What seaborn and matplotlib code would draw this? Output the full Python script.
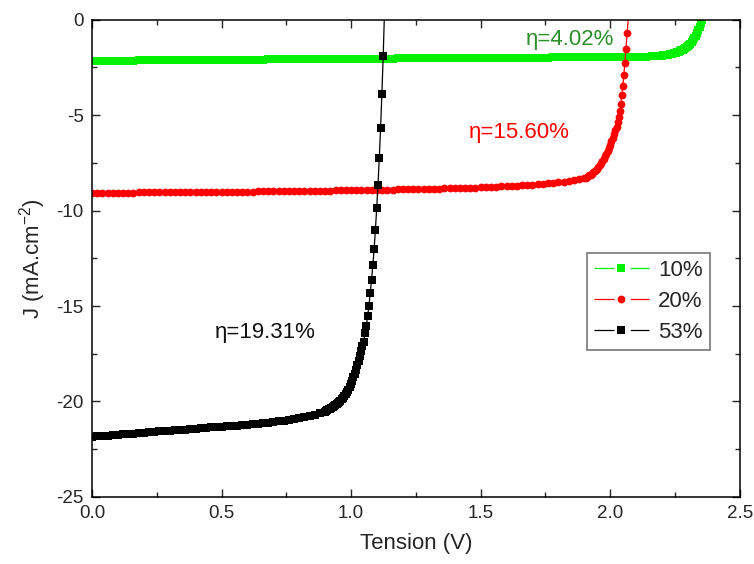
import numpy as np
import pandas as pd
import matplotlib
matplotlib.use("Agg")
import matplotlib.pyplot as plt
import seaborn as sns
from matplotlib.ticker import MultipleLocator

# ---------------- data ----------------
green_v = [0.00, 0.02, 0.04, 0.06, 0.08, 0.10, 0.12, 0.14, 0.16, 0.18,
           0.20, 0.22, 0.24, 0.26, 0.28, 0.30, 0.32, 0.34, 0.36, 0.38,
           0.40, 0.42, 0.44, 0.46, 0.48, 0.50, 0.52, 0.54, 0.56, 0.58,
           0.60, 0.62, 0.64, 0.66, 0.68, 0.70, 0.72, 0.74, 0.76, 0.78,
           0.80, 0.82, 0.84, 0.86, 0.88, 0.90, 0.92, 0.94, 0.96, 0.98,
           1.00, 1.02, 1.04, 1.06, 1.08, 1.10, 1.12, 1.14, 1.16, 1.18,
           1.20, 1.22, 1.24, 1.26, 1.28, 1.30, 1.32, 1.34, 1.36, 1.38,
           1.40, 1.42, 1.44, 1.46, 1.48, 1.50, 1.52, 1.54, 1.56, 1.58,
           1.60, 1.62, 1.64, 1.66, 1.68, 1.70, 1.72, 1.74, 1.76, 1.78,
           1.80, 1.82, 1.84, 1.86, 1.88, 1.90, 1.92, 1.94, 1.96, 1.98,
           2.00, 2.02, 2.04, 2.06, 2.08, 2.10, 2.12, 2.14, 2.16, 2.18, 2.20,
           2.205, 2.210, 2.215, 2.220, 2.225, 2.230, 2.235, 2.240, 2.245, 2.250,
           2.255, 2.260, 2.265, 2.270, 2.275, 2.280, 2.285, 2.290, 2.295, 2.300,
           2.305, 2.310, 2.315, 2.320, 2.325, 2.330, 2.335, 2.340, 2.345, 2.350,
           2.355, 2.360]
green_j = [-2.15, -2.15, -2.15, -2.15, -2.14, -2.14, -2.14, -2.14, -2.14, -2.13,
           -2.13, -2.13, -2.13, -2.13, -2.12, -2.12, -2.12, -2.12, -2.12, -2.11,
           -2.11, -2.11, -2.11, -2.11, -2.10, -2.10, -2.10, -2.10, -2.10, -2.09,
           -2.09, -2.09, -2.09, -2.09, -2.08, -2.08, -2.08, -2.08, -2.08, -2.07,
           -2.07, -2.07, -2.07, -2.07, -2.06, -2.06, -2.06, -2.06, -2.06, -2.05,
           -2.05, -2.05, -2.05, -2.05, -2.04, -2.04, -2.04, -2.04, -2.04, -2.03,
           -2.03, -2.03, -2.03, -2.03, -2.02, -2.02, -2.02, -2.02, -2.02, -2.01,
           -2.01, -2.01, -2.01, -2.01, -2.00, -2.00, -2.00, -2.00, -2.00, -1.99,
           -1.99, -1.99, -1.99, -1.99, -1.98, -1.98, -1.98, -1.98, -1.98, -1.97,
           -1.97, -1.97, -1.97, -1.97, -1.96, -1.96, -1.96, -1.96, -1.96, -1.95,
           -1.95, -1.95, -1.95, -1.94, -1.94, -1.94, -1.93, -1.93, -1.92, -1.90, -1.88,
           -1.87, -1.86, -1.85, -1.84, -1.83, -1.81, -1.80, -1.78, -1.76, -1.74,
           -1.72, -1.70, -1.67, -1.64, -1.61, -1.58, -1.54, -1.49, -1.45, -1.40,
           -1.33, -1.26, -1.17, -1.07, -0.96, -0.83, -0.69, -0.53, -0.36, -0.18,
           0.00, 0.18]

red_v = [0.00, 0.02, 0.04, 0.06, 0.08, 0.10, 0.12, 0.14, 0.16, 0.18,
         0.20, 0.22, 0.24, 0.26, 0.28, 0.30, 0.32, 0.34, 0.36, 0.38,
         0.40, 0.42, 0.44, 0.46, 0.48, 0.50, 0.52, 0.54, 0.56, 0.58,
         0.60, 0.62, 0.64, 0.66, 0.68, 0.70, 0.72, 0.74, 0.76, 0.78,
         0.80, 0.82, 0.84, 0.86, 0.88, 0.90, 0.92, 0.94, 0.96, 0.98,
         1.00, 1.02, 1.04, 1.06, 1.08, 1.10, 1.12, 1.14, 1.16, 1.18,
         1.20, 1.22, 1.24, 1.26, 1.28, 1.30, 1.32, 1.34, 1.36, 1.38,
         1.40, 1.42, 1.44, 1.46, 1.48, 1.50, 1.52, 1.54, 1.56, 1.58,
         1.60, 1.62, 1.64, 1.66, 1.68, 1.70, 1.72, 1.74, 1.76, 1.78,
         1.80, 1.82, 1.84, 1.86, 1.88,
         1.900, 1.905, 1.910, 1.915, 1.920, 1.925, 1.930, 1.935, 1.940, 1.945,
         1.950, 1.955, 1.960, 1.965, 1.970, 1.975, 1.980, 1.985, 1.990, 1.995,
         2.000, 2.005, 2.010, 2.015, 2.020, 2.025,
         2.029, 2.033, 2.037, 2.041, 2.045, 2.049, 2.053, 2.057, 2.061, 2.066, 2.071]
red_j = [-9.08, -9.08, -9.08, -9.07, -9.07, -9.07, -9.06, -9.06, -9.06, -9.05,
         -9.05, -9.05, -9.05, -9.04, -9.04, -9.04, -9.04, -9.03, -9.03, -9.03,
         -9.03, -9.02, -9.02, -9.02, -9.01, -9.01, -9.01, -9.01, -9.00, -9.00,
         -9.00, -9.00, -8.99, -8.99, -8.99, -8.99, -8.98, -8.98, -8.98, -8.97,
         -8.97, -8.97, -8.96, -8.96, -8.95, -8.95, -8.95, -8.94, -8.94, -8.93,
         -8.93, -8.93, -8.92, -8.92, -8.91, -8.91, -8.91, -8.90, -8.90, -8.89,
         -8.89, -8.88, -8.88, -8.87, -8.87, -8.86, -8.85, -8.85, -8.84, -8.83,
         -8.82, -8.81, -8.80, -8.80, -8.79, -8.78, -8.77, -8.75, -8.74, -8.72,
         -8.71, -8.70, -8.69, -8.67, -8.66, -8.64, -8.62, -8.60, -8.58, -8.55,
         -8.52, -8.49, -8.45, -8.41, -8.36,
         -8.30, -8.27, -8.24, -8.20, -8.16, -8.11, -8.06, -8.00, -7.94, -7.87,
         -7.80, -7.71, -7.62, -7.52, -7.41, -7.29, -7.16, -7.02, -6.87, -6.71,
         -6.54, -6.37, -6.19, -6.00, -5.80, -5.61,
         -5.35, -5.08, -4.77, -4.40, -3.93, -3.46, -2.88, -2.25, -1.52, -0.68, 0.25]

black_v = [0.00, 0.02, 0.04, 0.06, 0.08, 0.10, 0.12, 0.14, 0.16, 0.18,
           0.20, 0.22, 0.24, 0.26, 0.28, 0.30, 0.32, 0.34, 0.36, 0.38,
           0.40, 0.42, 0.44, 0.46, 0.48, 0.50, 0.52, 0.54, 0.56, 0.58,
           0.60, 0.62, 0.64, 0.66, 0.68, 0.70, 0.72, 0.74, 0.76, 0.78,
           0.80, 0.82, 0.84, 0.86, 0.88,
           0.899, 0.904, 0.909, 0.914, 0.919, 0.924, 0.929, 0.934, 0.939, 0.944,
           0.949, 0.954, 0.959, 0.964, 0.969, 0.974, 0.979, 0.984, 0.989, 0.994,
           0.999, 1.004, 1.009, 1.014, 1.019, 1.024, 1.029, 1.034, 1.039, 1.044,
           1.049, 1.054, 1.059, 1.064, 1.069, 1.074, 1.079, 1.084, 1.089, 1.094,
           1.099, 1.104, 1.109, 1.114, 1.119, 1.124, 1.129]
black_j = [-21.85, -21.83, -21.81, -21.79, -21.76, -21.74, -21.72, -21.70, -21.68, -21.66,
           -21.64, -21.62, -21.60, -21.57, -21.55, -21.53, -21.51, -21.49, -21.47, -21.45,
           -21.43, -21.41, -21.39, -21.36, -21.34, -21.32, -21.30, -21.28, -21.26, -21.23,
           -21.21, -21.19, -21.16, -21.14, -21.11, -21.08, -21.05, -21.02, -20.98, -20.94,
           -20.89, -20.84, -20.78, -20.71, -20.63,
           -20.53, -20.49, -20.46, -20.42, -20.38, -20.34, -20.30, -20.25, -20.20, -20.15,
           -20.09, -20.03, -19.96, -19.89, -19.81, -19.72, -19.62, -19.51, -19.38, -19.24,
           -19.08, -18.91, -18.73, -18.54, -18.33, -18.10, -17.86, -17.62, -17.38, -17.12,
           -16.88, -16.40, -16.04, -15.51, -14.99, -14.31, -13.63, -12.84, -12.00, -11.01,
           -9.85, -8.65, -7.23, -5.66, -3.88, -1.89, 0.40]

series_labels = ["10%", "20%", "53%"]
efficiencies = ["\u03b7=4.02%", "\u03b7=15.60%", "\u03b7=19.31%"]
x_ticks = [0.0, 0.5, 1.0, 1.5, 2.0, 2.5]
y_ticks = [-25, -20, -15, -10, -5, 0]

# ---------------- style ----------------
sns.set_style("ticks")
plt.rcParams["font.family"] = ["Liberation Sans", "DejaVu Sans"]
plt.rcParams["axes.unicode_minus"] = False
plt.rcParams["mathtext.fontset"] = "custom"
plt.rcParams["mathtext.rm"] = "Liberation Sans"
plt.rcParams["mathtext.it"] = "Liberation Sans"

fig = plt.figure(figsize=(7.54, 5.64), dpi=100)
ax = fig.add_axes([0.122, 0.119, 0.859, 0.846])

frames = []
for v, j, lab in [(green_v, green_j, series_labels[0]),
                  (red_v, red_j, series_labels[1]),
                  (black_v, black_j, series_labels[2])]:
    frames.append(pd.DataFrame({"V": v, "J": j, "series": lab}))
df = pd.concat(frames, ignore_index=True)

styles = {
    "10%": dict(color="#00f000", marker="s", ms=5.4),
    "20%": dict(color="#ff0000", marker="o", ms=5.6),
    "53%": dict(color="#000000", marker="s", ms=5.4),
}
for lab in series_labels:
    sub = df[df["series"] == lab]
    st = styles[lab]
    sns.lineplot(data=sub, x="V", y="J", ax=ax, sort=False, estimator=None,
                 color=st["color"], marker=st["marker"], markersize=st["ms"],
                 markeredgewidth=0, linewidth=0.9, label=lab)

ax.set_xlim(0, 2.5)
ax.set_ylim(-25, 0)
ax.set_xticks(x_ticks)
ax.set_yticks(y_ticks)
ax.set_xticklabels([f"{t:.1f}" for t in x_ticks])
ax.set_yticklabels([f"{t:d}" for t in y_ticks])
ax.xaxis.set_minor_locator(MultipleLocator(0.25))
ax.yaxis.set_minor_locator(MultipleLocator(2.5))
ax.tick_params(which="both", direction="in", top=True, right=True, labelsize=13.5, width=1.0,
               pad=6)
ax.tick_params(which="major", length=6)
ax.tick_params(which="minor", length=3.5)
for s in ax.spines.values():
    s.set_linewidth(1.1)
    s.set_color("black")

ax.set_xlabel("Tension (V)", fontsize=16, labelpad=8)
ax.set_ylabel(r"J (mA.cm$^{\mathregular{-2}}$)", fontsize=16, labelpad=6)

ax.text(1.675, -1.05, efficiencies[0], color="#2b8f2b", fontsize=16, va="center", ha="left")
ax.text(1.455, -5.92, efficiencies[1], color="#ff0000", fontsize=16, va="center", ha="left")
ax.text(0.475, -16.4, efficiencies[2], color="#111111", fontsize=16, va="center", ha="left")

leg = ax.legend(loc="upper right", bbox_to_anchor=(0.954, 0.512), borderaxespad=0,
                fontsize=16, frameon=True, fancybox=False, handlelength=2.5,
                handletextpad=0.4, borderpad=0.32, labelspacing=0.45)
leg.get_frame().set_edgecolor("#555555")
leg.get_frame().set_linewidth(1.2)
for ln in leg.get_lines():
    ln.set_linestyle((0, (16.0, 13.0, 30.0)))

fig.savefig("out.png", dpi=100)
